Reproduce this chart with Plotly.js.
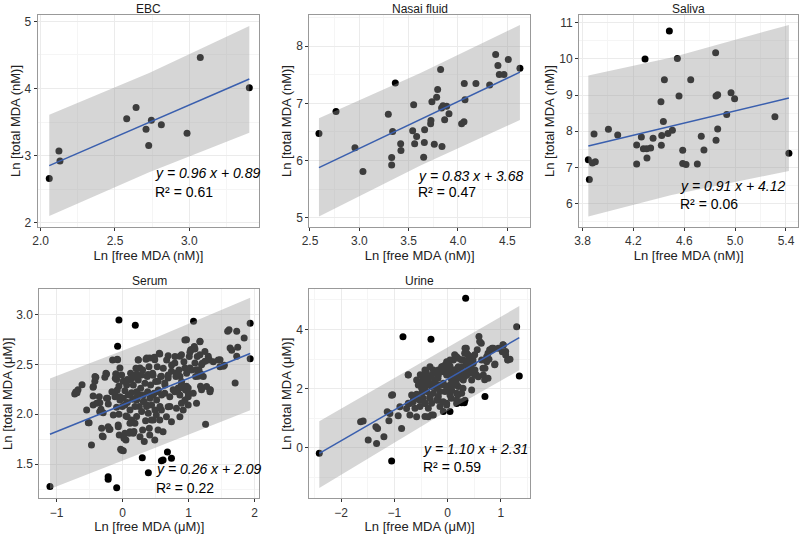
<!DOCTYPE html>
<html>
<head>
<meta charset="utf-8">
<script src="https://cdn.plot.ly/plotly-3.0.1.min.js"></script>
<style>html,body{margin:0;padding:0;background:#fff}#chart{width:800px;height:534px}</style>
</head>
<body>
<div id="chart"></div>
<script>
// ---------- text ----------
const panelTitles = ['EBC', 'Nasai fluid', 'Saliva', 'Serum', 'Urine'];
const xTitles = ['Ln [free MDA (nM)]', 'Ln [free MDA (nM)]', 'Ln [free MDA (nM)]', 'Ln [free MDA (\u03bcM)]', 'Ln [free MDA (\u03bcM)]'];
const yTitles = ['Ln [total MDA (nM)]', 'Ln [total MDA (nM)]', 'Ln [total MDA (nM)]', 'Ln [total MDA (\u03bcM)]', 'Ln [total MDA (\u03bcM)]'];
const equations = ['y = 0.96 x + 0.89', 'y = 0.83 x + 3.68', 'y = 0.91 x + 4.12', 'y = 0.26 x + 2.09', 'y = 1.10 x + 2.31'];
const r2Values = ['0.61', '0.47', '0.06', '0.22', '0.59'];

// ---------- EBC ----------
const ebcX = [2.058, 2.123, 2.130, 2.579, 2.642, 2.709, 2.745, 2.727, 2.812, 2.985, 3.074, 3.404];
const ebcY = [2.658, 3.069, 2.921, 3.550, 3.718, 3.391, 3.525, 3.149, 3.460, 3.332, 4.460, 4.010];
const ebcBandX = [2.058, 2.73, 3.404];
const ebcBandLow = [2.10, 2.75, 3.34];
const ebcBandHigh = [3.61, 4.23, 4.93];
const ebcFitX = [2.058, 3.404];
const ebcFitY = [2.85, 4.14];

// ---------- Nasal fluid ----------
const nasX = [2.591, 2.764, 2.956, 3.037, 3.294, 3.365, 3.338, 3.328, 3.328, 3.419, 3.422, 3.551, 3.541, 3.581, 3.561,
  3.662, 3.659, 3.652, 3.726, 3.723, 3.736, 3.760, 3.784, 3.794, 3.824, 3.838, 3.834, 3.848, 3.865, 3.885, 3.909,
  4.064, 4.071, 4.037, 4.061, 4.182, 4.321, 4.382, 4.405, 4.419, 4.466, 4.510, 4.628];
const nasY = [6.473, 6.859, 6.221, 5.805, 6.807, 7.357, 6.508, 6.051, 5.922, 6.291, 6.174, 6.977, 6.520, 6.420, 6.291,
  6.537, 6.315, 6.057, 6.701, 6.643, 7.029, 6.285, 7.105, 7.240, 7.592, 6.244, 6.918, 6.959, 6.713, 6.947, 6.818,
  7.346, 7.064, 6.643, 6.678, 7.346, 7.322, 7.855, 7.662, 7.504, 7.504, 7.767, 7.615];
const nasBandX = [2.591, 3.62, 4.628];
const nasBandLow = [5.02, 5.91, 6.71];
const nasBandHigh = [6.74, 7.53, 8.37];
const nasFitX = [2.591, 4.628];
const nasFitY = [5.875, 7.545];

// ---------- Saliva ----------
const salX = [3.846, 3.854, 3.878, 3.901, 3.891, 4.004, 4.077, 4.226, 4.226, 4.263, 4.279, 4.305, 4.292, 4.307, 4.336,
  4.355, 4.417, 4.420, 4.423, 4.436, 4.444, 4.483, 4.472, 4.507, 4.546, 4.559, 4.588, 4.588, 4.614, 4.651, 4.703,
  4.734, 4.755, 4.850, 4.847, 4.850, 4.863, 4.863, 4.934, 4.968, 4.996, 5.313, 5.423];
const salY = [7.213, 6.667, 7.120, 7.157, 7.926, 8.056, 7.898, 7.620, 7.093, 7.843, 7.519, 7.519, 10.00, 7.259, 7.537,
  7.806, 8.815, 7.611, 7.880, 8.269, 9.426, 10.769, 7.935, 8.028, 10.009, 8.972, 7.472, 7.111, 7.083, 9.426, 7.093,
  7.861, 7.481, 7.750, 10.167, 8.972, 9.009, 8.065, 8.463, 9.065, 8.898, 8.398, 7.389];
const salBandX = [3.846, 4.5, 5.423];
const salBandLow = [5.64, 6.24, 6.90];
const salBandHigh = [9.54, 10.04, 10.94];
const salFitX = [3.846, 5.423];
const salFitY = [7.59, 8.917];

// ---------- Serum ----------
const serX = [-1.101, -0.056, -0.076, 0.192, 1.075, 1.933, 1.933, 1.257, -0.219, -0.219, -0.090, 0.298, 0.390, 0.679, 0.613, 0.740, 0.588,
  -0.076, -0.041, -0.244, -0.269, -0.406, -0.421, -0.615, -0.676, -0.711, -0.447, -0.102, -0.091, 0.009, 0.070, 0.137, 0.213, 0.237, 0.263, 0.365,
  1.592, 1.613, 1.729, 1.842, 1.629, 1.653, 1.744, 1.729, 1.476, 1.542, 1.705, 0.968, 1.172, 1.044, 1.020, 1.096, 1.172, 1.298, 1.314, 0.892,
  0.868, 0.690, 0.563, 0.487, 0.411, 1.096, 1.196, 1.248, 1.527, 0.944, 1.020, 1.120, 0.791, 0.816, 0.868, 0.740, 1.146, 1.187, 1.181, 1.329,
  1.196, 0.690, 0.588, 0.639, 0.537, 0.461, 0.385, 0.892, 0.918, 0.968, 0.994, 0.766, 0.842,
  0.461, 0.537, 0.639, 0.715, 0.791, 0.868, 0.944, 0.994, 1.120, 0.994, 0.892, 0.816, 0.690, 0.588, 0.511, 0.435, 0.563, 0.664, 0.537, 0.411,
  0.487, 0.613, 0.740, 0.918, 0.868, 1.070, 1.324,
  -0.472, -0.295, -0.015, 0.010, -0.508, -0.447, -0.219, -0.204, -0.067, -0.345, -0.295, 0.035, 0.050, 0.111, 0.161, 0.263, 0.111, 0.187, -0.056,
  0.070, 0.035, -0.726, -0.691, -0.447, -0.345, -0.244, -0.117, -0.041, 0.213, 0.263, 0.314, 0.365,
  -0.162, -0.152, -0.141, -0.116, -0.111, -0.101, -0.091, -0.081, -0.081, -0.066, -0.056, -0.051, -0.040, -0.030, -0.015, -0.005, 0.010, 0.020,
  0.035, 0.051, 0.061, 0.071, 0.086, 0.096, 0.101, 0.111, 0.121, 0.136, 0.136, 0.152, 0.162, 0.172, 0.187, 0.187, 0.202, 0.212, 0.212, 0.222,
  0.237, 0.237, 0.253, 0.273, 0.288, 0.288, 0.303, 0.303, 0.313, 0.323, 0.328, 0.338, 0.348, 0.354, 0.364, 0.374, 0.379, 0.389, 0.399, 0.404,
  0.414, 0.424, 0.439, 0.455, 0.465, 0.475, 0.480, 0.490, 0.500, 0.515, 0.525, 0.540, 0.556, 0.566, 0.576, 0.591, 0.616, 0.641, 0.667, 0.692,
  0.717, 0.742, 0.793, 0.808, 0.833, 0.854, 0.894, 0.929, 0.944, 0.955, 0.970, 0.995, 1.010, 1.030, 1.045, 1.086, 1.106, 1.131, 1.157, 1.172,
  1.207, 1.222, 1.247, 1.273, 1.298, 1.323, 1.449, 1.475, 1.374,
  -0.520, -0.444, -0.419, -0.354, -0.343, -0.328, -0.308, -0.253, -0.227, -0.217, -0.192, -0.394, -0.545, -0.318];
const serY = [1.274, 2.946, 2.683, 2.894, 2.934, 2.914, 2.558, 1.900, 1.374, 1.347, 1.263, 1.564, 1.414, 1.621, 1.541, 1.558, 1.534,
  2.548, 2.465, 2.405, 2.371, 2.371, 2.331, 2.297, 2.247, 2.224, 2.271, 2.405, 2.348, 2.331, 2.348, 2.357, 2.405, 2.548, 2.465, 2.565,
  2.833, 2.849, 2.833, 2.766, 2.666, 2.643, 2.673, 2.582, 2.548, 2.492, 2.314, 2.749, 2.733, 2.649, 2.622, 2.656, 2.598, 2.582, 2.548, 2.598,
  2.582, 2.588, 2.605, 2.548, 2.565, 2.515, 2.498, 2.532, 2.482, 2.465, 2.465, 2.448, 2.515, 2.415, 2.382, 2.432, 2.382, 2.405, 2.281, 2.247,
  2.247, 2.364, 2.382, 2.314, 2.331, 2.392, 2.398, 2.297, 2.264, 2.281, 2.264, 2.247, 2.264,
  2.194, 2.227, 2.211, 2.177, 2.227, 2.194, 2.144, 2.093, 2.110, 2.177, 2.110, 2.060, 2.076, 2.043, 1.993, 1.943, 1.943, 1.976, 1.842, 1.792,
  1.742, 1.825, 1.926, 2.043, 1.976, 2.211, 2.227,
  1.692, 1.775, 1.640, 1.635, 1.916, 2.093, 1.876, 1.846, 1.893, 2.026, 2.016, 1.810, 1.742, 1.825, 1.810, 1.775, 1.910, 1.910, 2.000,
  1.976, 2.093, 2.204, 2.217, 2.184, 2.116, 2.161, 2.211, 2.144, 2.144, 2.194, 2.127, 2.094,
  2.227, 2.545, 1.993, 2.177, 2.361, 2.405, 2.070, 2.552, 2.244, 1.876, 2.284, 1.793, 2.177, 1.649, 2.395, 2.077, 2.161, 1.759,
  2.237, 1.983, 2.294, 2.117, 2.194, 2.344, 1.809, 2.043, 2.411, 2.217, 1.943, 2.150, 2.294, 1.826, 2.378, 2.077, 2.462, 2.227, 1.977, 2.177,
  2.545, 2.344, 2.077, 2.261, 2.395, 2.027, 2.445, 1.843, 2.194, 2.127, 1.726, 2.311, 1.936, 2.552, 2.077, 2.378, 2.227, 2.010, 2.478, 1.860,
  2.161, 2.294, 2.094, 2.411, 1.943, 2.211, 2.572, 2.043, 2.328, 2.144, 2.478, 2.244, 2.612, 2.077, 2.378, 2.194, 2.462, 2.294, 2.545, 2.395,
  2.077, 2.495, 2.579, 2.378, 2.227, 2.445, 2.328, 2.528, 2.746, 2.244, 2.411, 2.211, 2.579, 2.645, 2.445, 2.679, 2.378, 2.579, 2.445, 2.729,
  2.512, 2.378, 2.629, 2.278, 2.545, 2.244, 2.545, 2.478, 2.528,
  1.916, 2.278, 2.378, 2.177, 2.027, 2.050, 1.783, 2.411, 2.161, 2.104, 1.850, 2.110, 2.043, 1.860];
const serBandX = [-1.101, 0.40, 1.933];
const serBandLow = [1.25, 1.64, 2.04];
const serBandHigh = [2.36, 2.74, 3.17];
const serFitX = [-1.101, 1.933];
const serFitY = [1.80, 2.61];

// ---------- Urine ----------
const uriX = [-2.411, 0.338, -0.839, -0.313, -1.052, 0.701, 1.346, 1.296, 0.044, 0.313,
  -1.587, -1.635, -1.348, -1.316, -1.492, -1.335, -1.197, -1.135, -1.085, -1.103, -0.929, -0.865, -1.053, -0.897, -0.771, -0.709, -0.647,
  -0.521, -0.427, -0.333, -0.709, -0.583, -0.365, -0.301, -0.177, -0.083, -0.019, 0.169, 0.263, 0.325,
  0.588, 0.602, 0.632, 1.039, 1.090, 1.133, 0.883, 0.789, 0.833, 0.758, 0.556, 0.508, 0.476, 0.664, 0.350, 0.320, 0.382, 0.132, 0.194, 0.256,
  0.350, 0.382, 0.444, -0.088, -0.120, -0.026, 0.006, 0.068, 0.132, 0.194, 0.068, 0.256, 0.320, 0.414, 0.538, -0.464, -0.526, -0.370, -0.276,
  -0.182, -0.214, -0.402, -0.308, -0.088, 0.038, 0.162, 0.288, 0.194, 0.038, 0.068, 0.695, 0.758, -0.741, -1.034, -0.583,
  -0.551, -0.488, -0.426, -0.363, -0.488, -0.394, -0.457, -0.332, -0.269, -0.582, -0.645, -0.676, -0.739, -0.614, -0.520, -0.426, -0.363,
  -0.301, -0.207, -0.175, -0.144, -0.269, -0.426, -0.144, -0.081, -0.019, -0.175, -0.081, 0.013, -0.019, -0.113, -0.050, 0.044, 0.106, 0.075,
  0.169, 0.232, 0.263, 0.294, 0.326, 0.357, 0.388, 0.401, 0.451, 0.482, 0.513, 0.639, 0.701, 0.733, 0.776, 0.827, 0.858, 0.889, 1.027,
  1.046, 1.090, 1.127, 1.171, 0.451, 0.513, 0.576, 0.326, 0.200, 0.138, 0.075, 0.263, 0.451, 0.169, 0.169, 0.263, -0.238, -0.301, -0.363,
  -0.426, -0.488, -0.582, -0.739, -0.238, -0.175, -0.081, -0.019, 0.044, -0.050, 0.044, -0.301, -0.207, 0.106, 0.200, 0.169, 0.044, -0.019,
  -0.175, -0.269, -0.332, -0.426, -0.514, 0.420, 0.357, 0.294, 0.670, 0.733, 0.952];
const uriY = [-0.186, 5.054, 3.758, 3.668, -0.445, 1.730, 2.428, 4.096, 1.223, 1.527,
  0.902, 0.878, 0.709, 0.655, 0.260, 0.149, 0.372, 1.216, 1.162, 0.912, 1.081, 0.655, 1.780, 1.385, 1.331, 1.500, 1.554,
  1.611, 1.500, 1.669, 1.105, 1.047, 1.047, 1.105, 1.611, 1.554, 1.443, 1.500, 1.554, 1.611,
  3.764, 3.595, 3.537, 3.480, 3.257, 2.973, 2.804, 3.311, 3.368, 3.199, 3.311, 3.142, 2.973, 2.693, 3.368, 3.199, 3.142, 3.142, 3.030, 2.973,
  2.861, 2.693, 2.804, 2.750, 2.635, 2.693, 2.524, 2.581, 2.635, 2.466, 2.355, 2.355, 2.412, 2.524, 2.466, 2.297, 2.128, 2.128, 2.186,
  2.355, 2.074, 2.581, 2.412, 2.128, 2.074, 2.186, 2.017, 1.791, 1.905, 1.679, 2.297, 2.355, 2.466, 1.791, 1.814,
  2.124, 2.011, 2.068, 2.180, 1.842, 1.899, 1.673, 1.730, 1.842, 1.673, 1.617, 1.786, 1.504, 1.335, 1.392, 1.504, 1.335,
  1.504, 1.617, 1.730, 1.899, 1.110, 1.054, 1.392, 1.223, 1.504, 2.462, 2.575, 2.631, 2.462, 2.744, 2.800, 2.766, 2.518, 2.293,
  2.349, 2.518, 2.744, 2.969, 3.363, 3.194, 2.969, 2.744, 3.082, 2.856, 2.631, 2.969, 2.687, 3.082, 2.992, 3.307, 3.363, 2.834, 3.251,
  3.476, 3.138, 2.969, 2.992, 2.293, 2.462, 2.406, 2.518, 2.068, 2.124, 1.955, 1.842, 1.955, 1.842, 1.617, 1.527, 2.575, 2.462, 2.349,
  2.462, 2.237, 2.293, 2.462, 2.293, 2.124, 2.180, 2.068, 2.124, 1.899, 1.786, 2.068, 2.011, 2.969, 2.744, 3.082, 2.969, 2.913,
  2.631, 2.631, 2.744, 2.631, 2.473, 2.631, 2.462, 2.293, 2.462, 2.913, 3.363];
const uriBandX = [-2.411, -0.20, 1.346];
const uriBandLow = [-1.36, 1.04, 2.62];
const uriBandHigh = [0.90, 3.19, 4.79];
const uriFitX = [-2.411, 1.346];
const uriFitY = [-0.186, 3.724];

// ---------- layout settings (not data) ----------
const FONT = 'Liberation Sans, Arial, Helvetica, sans-serif';
const panels = [
  {x: ebcX, y: ebcY, bx: ebcBandX, lo: ebcBandLow, hi: ebcBandHigh, fx: ebcFitX, fy: ebcFitY},
  {x: nasX, y: nasY, bx: nasBandX, lo: nasBandLow, hi: nasBandHigh, fx: nasFitX, fy: nasFitY},
  {x: salX, y: salY, bx: salBandX, lo: salBandLow, hi: salBandHigh, fx: salFitX, fy: salFitY},
  {x: serX, y: serY, bx: serBandX, lo: serBandLow, hi: serBandHigh, fx: serFitX, fy: serFitY},
  {x: uriX, y: uriY, bx: uriBandX, lo: uriBandLow, hi: uriBandHigh, fx: uriFitX, fy: uriFitY}
];
const domX = [[0.0471, 0.3241], [0.3866, 0.6625], [0.7238, 0.9979], [0.0491, 0.3241], [0.3866, 0.6625]];
const domY = [[0.5749, 0.9719], [0.5749, 0.9719], [0.5749, 0.9719], [0.0669, 0.4582], [0.0669, 0.4582]];
const xAxisCfg = [
  {range: [1.980, 3.471], dtick: 0.5, tick0: 2, fmt: '.1f', minor: 0.25},
  {range: [2.493, 4.730], dtick: 0.5, tick0: 3, fmt: '.1f', minor: 0.25},
  {range: [3.773, 5.497], dtick: 0.4, tick0: 3.8, fmt: '.1f', minor: 0.2},
  {range: [-1.263, 2.071], dtick: 1, tick0: 0, fmt: '', minor: 0.5},
  {range: [-2.599, 1.547], dtick: 1, tick0: 0, fmt: '', minor: 0.5}
];
const yAxisCfg = [
  {range: [1.936, 5.094], dtick: 1, tick0: 2, fmt: '', minor: 0.5},
  {range: [4.836, 8.545], dtick: 1, tick0: 5, fmt: '', minor: 0.5},
  {range: [5.352, 11.213], dtick: 1, tick0: 6, fmt: '', minor: 0.5},
  {range: [1.157, 3.254], dtick: 0.5, tick0: 1.5, fmt: '.1f', minor: 0.25},
  {range: [-1.707, 5.358], dtick: 2, tick0: 0, fmt: '', minor: 1}
];
const eqPos = [
  {x: 2.753, y: 2.739, ry: 2.457},
  {x: 3.571, y: 5.735, ry: 5.453},
  {x: 4.554, y: 6.481, ry: 5.981},
  {x: 0.475, y: 1.451, ry: 1.264},
  {x: -0.501, y: -0.039, ry: -0.659}
];
const titleY = [0.983, 0.983, 0.983, 0.4735, 0.4735];

const traces = [];
const layout = {
  width: 800, height: 534,
  margin: {l: 0, r: 0, t: 0, b: 0},
  paper_bgcolor: '#ffffff', plot_bgcolor: '#ffffff',
  showlegend: false,
  font: {family: FONT, size: 12, color: '#333333'},
  annotations: []
};

panels.forEach((p, i) => {
  const n = i + 1;
  const xa = 'x' + (n === 1 ? '' : n);
  const ya = 'y' + (n === 1 ? '' : n);
  // points (drawn first, band drawn over them)
  traces.push({
    type: 'scatter', mode: 'markers', x: p.x, y: p.y, xaxis: xa, yaxis: ya,
    marker: {color: '#000000', size: 7, line: {width: 0}}, hoverinfo: 'x+y'
  });
  // prediction band
  const bandX = p.bx.concat(p.bx.slice().reverse());
  const bandY = p.hi.concat(p.lo.slice().reverse());
  traces.push({
    type: 'scatter', mode: 'lines', x: bandX, y: bandY, xaxis: xa, yaxis: ya,
    fill: 'toself', fillcolor: 'rgba(153,153,153,0.4)', line: {width: 0, color: 'rgba(0,0,0,0)'}, hoverinfo: 'skip'
  });
  // fitted line
  traces.push({
    type: 'scatter', mode: 'lines', x: p.fx, y: p.fy, xaxis: xa, yaxis: ya,
    line: {color: '#3a5fae', width: 1.5}, hoverinfo: 'skip'
  });

  const xc = xAxisCfg[i], yc = yAxisCfg[i];
  const common = {
    showline: true, mirror: true, linecolor: '#999999', linewidth: 1,
    showgrid: true, gridcolor: '#ebebeb', gridwidth: 1, zeroline: false,
    ticks: 'outside', ticklen: 3, tickwidth: 1, tickcolor: '#333333',
    tickfont: {family: FONT, size: 12, color: '#333333'}
  };
  layout['xaxis' + (n === 1 ? '' : n)] = Object.assign({}, common, {
    domain: domX[i], anchor: ya, range: xc.range, tickmode: 'linear', dtick: xc.dtick, tick0: xc.tick0,
    tickformat: xc.fmt,
    minor: {dtick: xc.minor, showgrid: true, gridcolor: '#f5f5f5', gridwidth: 1, ticks: ''},
    title: {text: xTitles[i], font: {family: FONT, size: 13, color: '#222222'}, standoff: 0}
  });
  layout['yaxis' + (n === 1 ? '' : n)] = Object.assign({}, common, {
    domain: domY[i], anchor: xa, range: yc.range, tickmode: 'linear', dtick: yc.dtick, tick0: yc.tick0,
    tickformat: yc.fmt,
    minor: {dtick: yc.minor, showgrid: true, gridcolor: '#f5f5f5', gridwidth: 1, ticks: ''},
    title: {text: yTitles[i], font: {family: FONT, size: 13, color: '#222222'}, standoff: 1}
  });

  // panel title
  layout.annotations.push({
    text: panelTitles[i], xref: 'paper', yref: 'paper',
    x: (domX[i][0] + domX[i][1]) / 2, y: titleY[i], xanchor: 'center', yanchor: 'middle',
    showarrow: false, font: {family: FONT, size: 12, color: '#1a1a1a'}
  });
  // equation + R2
  layout.annotations.push({
    text: equations[i], xref: xa, yref: ya, x: eqPos[i].x, y: eqPos[i].y,
    xanchor: 'left', yanchor: 'middle', showarrow: false,
    font: {family: FONT, size: 14, color: '#000000', style: 'italic'}
  });
  layout.annotations.push({
    text: 'R\u00b2 = ' + r2Values[i], xref: xa, yref: ya, x: eqPos[i].x, y: eqPos[i].ry,
    xanchor: 'left', yanchor: 'middle', showarrow: false, font: {family: FONT, size: 14, color: '#000000'}
  });
});

Plotly.newPlot('chart', traces, layout, {staticPlot: true, displayModeBar: false});
</script>
</body>
</html>
